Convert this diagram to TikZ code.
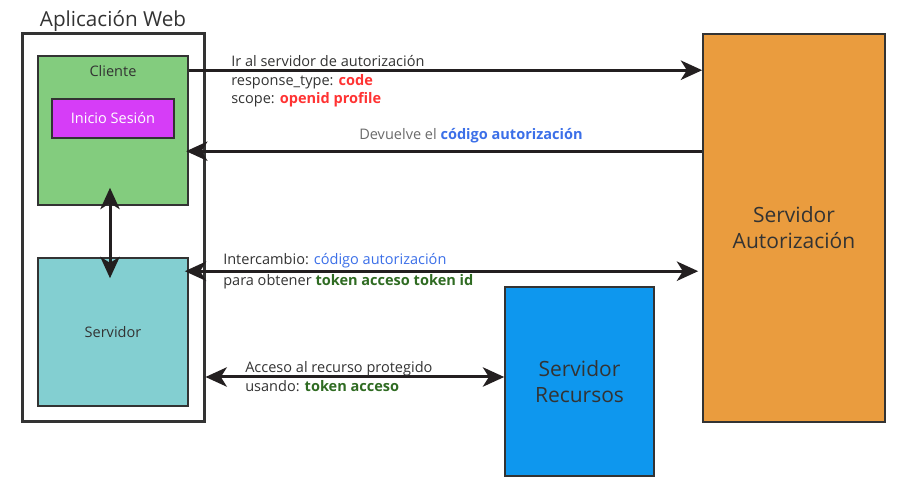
\documentclass[tikz,border=0pt]{standalone}
\usepackage{fontspec}
\setmainfont{Open Sans}
\usetikzlibrary{positioning,arrows.meta,calc}

\definecolor{txtdark}{HTML}{333333}
\definecolor{txtgris}{HTML}{6A6A6A}
\definecolor{rojo}{HTML}{FF3333}
\definecolor{azul}{HTML}{3B6FE8}
\definecolor{verde}{HTML}{2F6B22}
\definecolor{flecha}{HTML}{231F20}
\definecolor{borde}{HTML}{333333}
\definecolor{clientefill}{HTML}{83CC7E}
\definecolor{sesionfill}{HTML}{D63DF7}
\definecolor{servidorfill}{HTML}{83CFD1}
\definecolor{autzfill}{HTML}{EA9C3E}
\definecolor{recursosfill}{HTML}{0E97EE}

\tikzstyle{caja} = [
rectangle,
draw=borde,
line width=1.2pt,
inner sep=0pt,
text=txtdark,
align=center
]
\tikzstyle{grande} = [
caja,
font=\fontsize{15.75}{19.5}\selectfont
]
\tikzstyle{msg} = [
line width=2.25pt,
draw=flecha,
-{Stealth[length=16pt,width=14.5pt,inset=4.5pt]}
]
\tikzstyle{msgboth} = [
msg,
{Stealth[length=16pt,width=14.5pt,inset=4.5pt]}-{Stealth[length=16pt,width=14.5pt,inset=4.5pt]}
]
\tikzstyle{lbl} = [
inner sep=0pt,
text=txtdark,
anchor=base west
]

\begin{document}
\begin{tikzpicture}[
	x=0.75pt,
	y=-0.75pt,
	font=\fontsize{10.9}{14}\selectfont
	]
	\useasboundingbox (0,0) rectangle (907,491);
	
	% aplicacion web
	\node[caja, line width=2.25pt, minimum width=136.5pt, minimum height=291pt] (app) at (113,228) {};
	\node[anchor=base, inner sep=0pt, text=txtdark, font=\fontsize{15.5}{19}\selectfont] (titulo) at ($(app.north)+(0,-6)$) {Aplicación Web};
	
	\node[caja, fill=clientefill, minimum width=112.5pt, minimum height=111.75pt] (cliente) at (113,130.5) {};
	\node[below=4pt of cliente.north, text=txtdark] (clientetxt) {Cliente};
	\node[caja, fill=sesionfill, text=white, minimum width=91.5pt, minimum height=29.25pt] (sesion) at (113,118.5) {Inicio Sesión};
	\node[caja, fill=servidorfill, minimum width=112.5pt, minimum height=111pt] (servidor) at (113,332) {Servidor};
	
	% servidores externos
	\node[grande, fill=autzfill, minimum width=136.5pt, minimum height=291pt] (autz) at (794,228) {Servidor\\Autorización};
	\node[grande, fill=recursosfill, minimum width=111.75pt, minimum height=141.75pt] (recursos) at (579.5,381.5) {Servidor\\Recursos};
	
	% mensajes
	\coordinate (m1) at ($(cliente.north east)+(0,15)$);
	\coordinate (m2) at ($(cliente.north east)+(0,96)$);
	\coordinate (m3) at ($(servidor.north east)+(0,14)$);
	\coordinate (m4) at ($(recursos.west)+(0,-4.5)$);
	
	\draw[msg] (m1) -- (m1 -| autz.west);
	\draw[msg, shorten >=-2pt] (m2 -| autz.west) -- (m2);
	\draw[msgboth, shorten <=-3pt, shorten >=3pt] (m3) -- (m3 -| autz.west);
	\draw[msgboth] (m4 -| app.east) -- (m4);
	\draw[msgboth, shorten <=-13.5pt, shorten >=-15.75pt] ([xshift=-2.25pt]cliente.south) -- ([xshift=-2.25pt]servidor.north);
	
	% etiquetas
	\node[lbl] (ir) at (231,67) {Ir al servidor de autorización};
	\node[lbl] (resp) at ($(ir.base west)+(0,18.5)$) {response\_type: \textcolor{rojo}{\bfseries code}};
	\node[lbl] (scope) at ($(resp.base west)+(0,18.5)$) {scope: \textcolor{rojo}{\bfseries openid profile}};
	\node[lbl, text=txtgris] (devuelve) at (359,140) {Devuelve el \textcolor{azul}{\bfseries código autorización}};
	\node[lbl] (inter) at (223,265) {Intercambio: \textcolor{azul}{código autorización}};
	\node[lbl] (obtener) at (223,286) {para obtener \textcolor{verde}{\bfseries token acceso token id}};
	\node[lbl] (acceso) at (245,373) {Acceso al recurso protegido};
	\node[lbl] (usando) at ($(acceso.base west)+(0,19)$) {usando: \textcolor{verde}{\bfseries token acceso}};
\end{tikzpicture}
\end{document}
